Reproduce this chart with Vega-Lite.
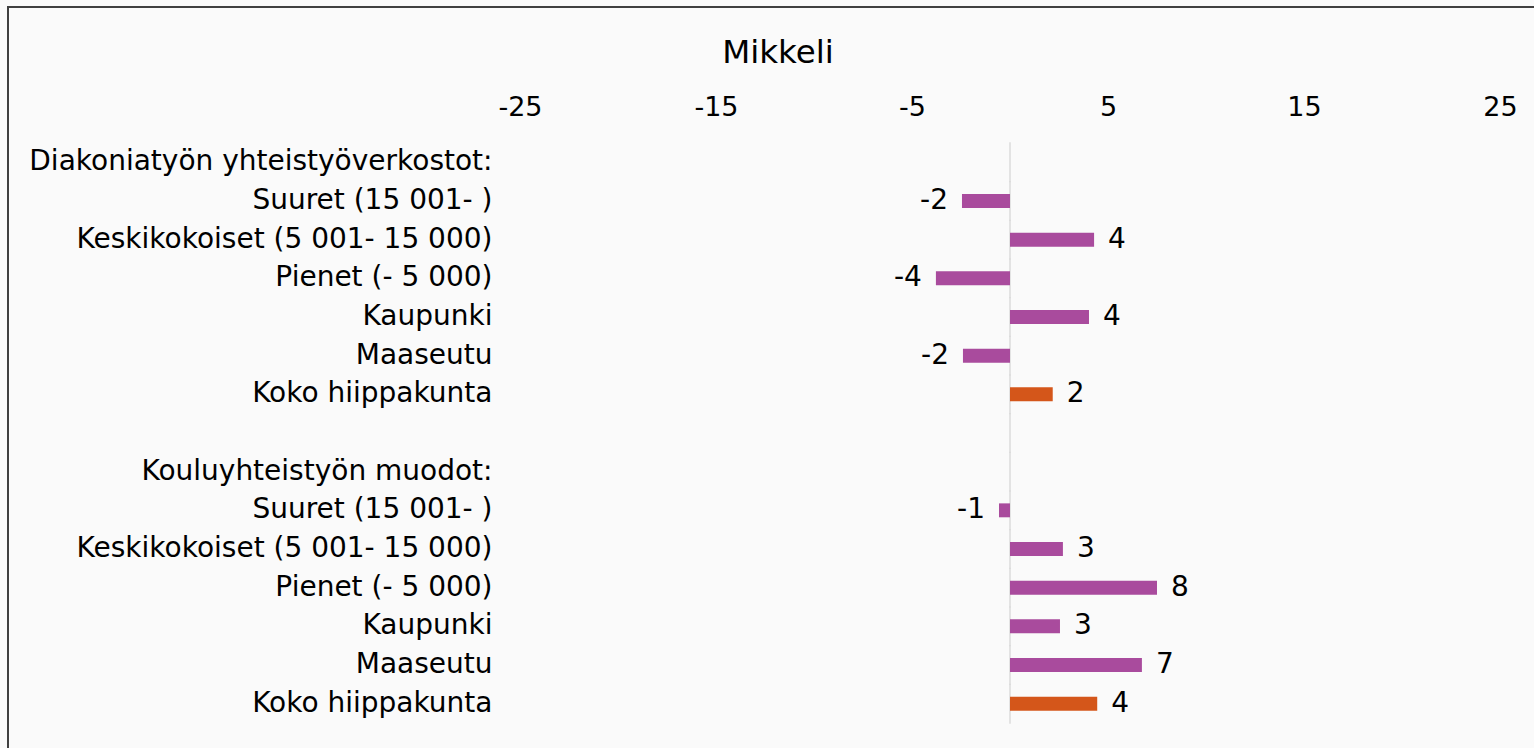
{
  "$schema": "https://vega.github.io/schema/vega-lite/v6.json",
  "width": 1530,
  "height": 745,
  "autosize": {"type": "none"},
  "padding": {"left": 8, "top": 7, "right": -4, "bottom": -4},
  "background": "#fafafa",
  "config": {
    "view": {"stroke": "#404040", "strokeWidth": 2, "fill": "#fafafa"},
    "font": "DejaVu Sans"
  },
  "title": {
    "text": "Mikkeli",
    "fontSize": 32.5,
    "font": "DejaVu Sans",
    "fontWeight": "normal",
    "color": "#000000",
    "anchor": "middle",
    "frame": "group",
    "offset": -62,
    "dx": 5
  },
  "data": {
    "values": [
      {"key": "D|Diakoniatyön yhteistyöverkostot:", "value": null, "label": null, "type": "segment"},
      {"key": "D|Suuret (15 001- )", "value": -2.45, "label": "-2", "type": "segment"},
      {"key": "D|Keskikokoiset (5 001- 15 000)", "value": 4.29, "label": "4", "type": "segment"},
      {"key": "D|Pienet (- 5 000)", "value": -3.78, "label": "-4", "type": "segment"},
      {"key": "D|Kaupunki", "value": 4.03, "label": "4", "type": "segment"},
      {"key": "D|Maaseutu", "value": -2.4, "label": "-2", "type": "segment"},
      {"key": "D|Koko hiippakunta", "value": 2.18, "label": "2", "type": "total"},
      {"key": "B|", "value": null, "label": null, "type": "segment"},
      {"key": "K|Kouluyhteistyön muodot:", "value": null, "label": null, "type": "segment"},
      {"key": "K|Suuret (15 001- )", "value": -0.56, "label": "-1", "type": "segment"},
      {"key": "K|Keskikokoiset (5 001- 15 000)", "value": 2.7, "label": "3", "type": "segment"},
      {"key": "K|Pienet (- 5 000)", "value": 7.5, "label": "8", "type": "segment"},
      {"key": "K|Kaupunki", "value": 2.55, "label": "3", "type": "segment"},
      {"key": "K|Maaseutu", "value": 6.73, "label": "7", "type": "segment"},
      {"key": "K|Koko hiippakunta", "value": 4.45, "label": "4", "type": "total"}
    ]
  },
  "encoding": {
    "y": {
      "field": "key",
      "type": "nominal",
      "sort": null,
      "scale": {
        "domain": [
          "D|Diakoniatyön yhteistyöverkostot:",
          "D|Suuret (15 001- )",
          "D|Keskikokoiset (5 001- 15 000)",
          "D|Pienet (- 5 000)",
          "D|Kaupunki",
          "D|Maaseutu",
          "D|Koko hiippakunta",
          "B|",
          "K|Kouluyhteistyön muodot:",
          "K|Suuret (15 001- )",
          "K|Keskikokoiset (5 001- 15 000)",
          "K|Pienet (- 5 000)",
          "K|Kaupunki",
          "K|Maaseutu",
          "K|Koko hiippakunta"
        ],
        "range": [136, 716],
        "paddingInner": 0.64,
        "paddingOuter": 0.32
      },
      "axis": {
        "title": null,
        "orient": "left",
        "offset": -484,
        "ticks": false,
        "tickSize": 0,
        "domain": false,
        "grid": false,
        "labelPadding": 0,
        "labelAlign": "right",
        "labelFontSize": 28,
        "labelFont": "DejaVu Sans",
        "labelColor": "#000000",
        "labelLimit": 1000,
        "labelExpr": "split(datum.value, '|')[1]"
      }
    },
    "x": {
      "field": "value",
      "type": "quantitative",
      "scale": {"domain": [-25, 25], "range": [512, 1492], "nice": false, "zero": false},
      "axis": {
        "title": null,
        "orient": "top",
        "values": [-25, -15, -5, 5, 15, 25],
        "offset": -108,
        "ticks": false,
        "tickSize": 0,
        "domain": false,
        "grid": false,
        "labelPadding": 0,
        "labelBaseline": "alphabetic",
        "labelFontSize": 27,
        "labelFont": "DejaVu Sans",
        "labelColor": "#000000",
        "labelFlush": false,
        "labelOverlap": false,
        "labelExpr": "toString(datum.value)"
      }
    }
  },
  "layer": [
    {
      "mark": {"type": "tick", "orient": "vertical", "size": 40, "thickness": 2, "color": "#d9d9d9", "invalid": "show"},
      "encoding": {"x": {"datum": 0, "type": "quantitative"}}
    },
    {
      "mark": {"type": "bar"},
      "encoding": {
        "color": {
          "field": "type",
          "type": "nominal",
          "scale": {"domain": ["segment", "total"], "range": ["#a94b9d", "#d4561a"]},
          "legend": null
        }
      }
    },
    {
      "transform": [{"filter": "isValid(datum.value) && datum.value >= 0"}],
      "mark": {"type": "text", "align": "left", "baseline": "middle", "dx": 14, "fontSize": 28, "font": "DejaVu Sans", "color": "#000000"},
      "encoding": {"text": {"field": "label", "type": "nominal"}}
    },
    {
      "transform": [{"filter": "isValid(datum.value) && datum.value < 0"}],
      "mark": {"type": "text", "align": "right", "baseline": "middle", "dx": -14, "fontSize": 28, "font": "DejaVu Sans", "color": "#000000"},
      "encoding": {"text": {"field": "label", "type": "nominal"}}
    }
  ]
}
